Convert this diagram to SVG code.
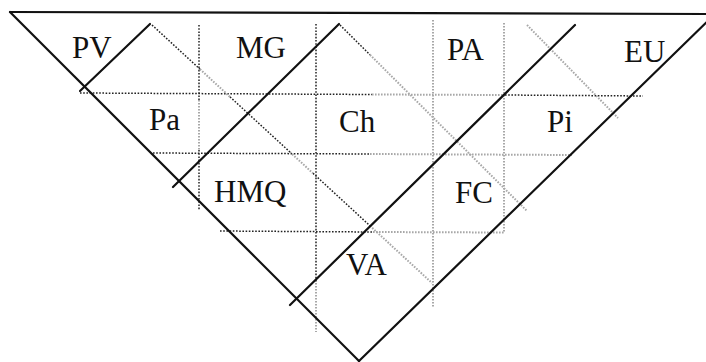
<svg xmlns="http://www.w3.org/2000/svg" width="706" height="362" viewBox="0 0 706 362">
  <style>
    .solid { stroke: #111111; stroke-width: 2.2; fill: none; stroke-linecap: round; }
    .dot { stroke: #222222; stroke-width: 1.5; fill: none; stroke-dasharray: 1.6 1.6; }
    .gray { stroke: #a8a8a8; stroke-width: 2; fill: none; stroke-dasharray: 1.6 1.4; }
    .lbl { font-family: "Liberation Serif", "Times New Roman", serif; font-size: 31px; fill: #111111; }
  </style>
  <rect width="706" height="362" fill="#ffffff"/>

  <!-- dotted cell grid: dark segments -->
  <g id="grid-dark">
    <path class="dot" d="M80,93 L372,94.5"/>
    <path class="dot" d="M505,95 L643,96"/>
    <path class="dot" d="M153,153 L370,154"/>
    <path class="dot" d="M220,231 L373,232"/>
    <path class="dot" d="M199,25 L199,100"/>
    <path class="dot" d="M199,150 L199,210"/>
    <path class="dot" d="M316,24 L316,283"/>
    <path class="dot" d="M152,25 L200,69.2"/>
    <path class="dot" d="M230,96.9 L290,152.1"/>
    <path class="dot" d="M313,173.3 L370,225.8"/>
    <path class="dot" d="M340,25 L370,54.8"/>
  </g>

  <!-- dotted cell grid: faint segments -->
  <g id="grid-faint">
    <path class="gray" d="M372,94.5 L505,95"/>
    <path class="gray" d="M370,154 L572,155"/>
    <path class="gray" d="M373,232 L504,232.5"/>
    <path class="gray" d="M199,100 L199,150"/>
    <path class="gray" d="M316,283 L316,332"/>
    <path class="gray" d="M433,20 L433,307"/>
    <path class="gray" d="M504,23 L504,232"/>
    <path class="gray" d="M200,69.2 L230,96.9"/>
    <path class="gray" d="M290,152.1 L313,173.3"/>
    <path class="gray" d="M370,225.8 L432,283"/>
    <path class="gray" d="M370,54.8 L527,211"/>
    <path class="gray" d="M527,25 L618,118"/>
  </g>

  <!-- triangle outline and diagonal dividers -->
  <g id="connectors">
    <path class="solid" d="M10,12 L706,14"/>
    <path class="solid" d="M10,12 L359,361"/>
    <path class="solid" d="M359,361 L716,13"/>
    <path class="solid" d="M80,91 L150,24"/>
    <path class="solid" d="M173,187 L339,24"/>
    <path class="solid" d="M290,305 L575,25"/>
  </g>

  <g id="PV"><text class="lbl" x="72" y="58">PV</text></g>
  <g id="MG"><text class="lbl" x="236" y="58">MG</text></g>
  <g id="PA"><text class="lbl" x="447" y="60">PA</text></g>
  <g id="EU"><text class="lbl" x="624" y="62">EU</text></g>
  <g id="Pa"><text class="lbl" x="149" y="130">Pa</text></g>
  <g id="Ch"><text class="lbl" x="339" y="132">Ch</text></g>
  <g id="Pi"><text class="lbl" x="547" y="132">Pi</text></g>
  <g id="HMQ"><text class="lbl" x="214" y="202">HMQ</text></g>
  <g id="FC"><text class="lbl" x="455" y="203">FC</text></g>
  <g id="VA"><text class="lbl" x="346" y="275">VA</text></g>
</svg>
